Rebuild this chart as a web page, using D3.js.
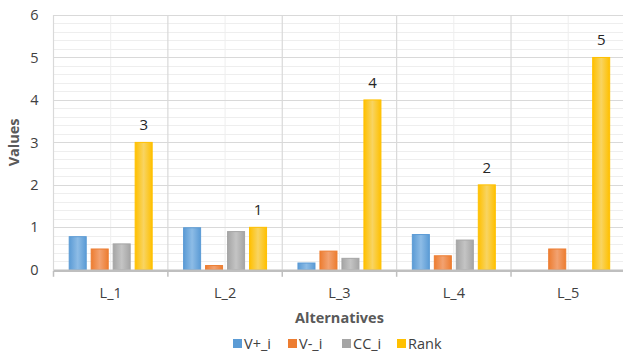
<!DOCTYPE html>
<html>
<head>
<meta charset="utf-8">
<script src="https://cdn.jsdelivr.net/npm/d3@7"></script>
<style>
  html, body { margin: 0; padding: 0; background: #fff; overflow: hidden; }
  svg { display: block; font-family: "Open Sans", "Noto Sans", sans-serif; }
</style>
</head>
<body>
<svg id="chart" width="623" height="354"></svg>
<script>
// Alternatives and the TOPSIS results for each
const categories = ["L_1", "L_2", "L_3", "L_4", "L_5"];
const seriesNames = ["V+_i", "V-_i", "CC_i", "Rank"];
const vPlus  = [0.78, 0.99, 0.16, 0.83, 0];
const vMinus = [0.49, 0.10, 0.44, 0.33, 0.49];
const cc     = [0.61, 0.90, 0.27, 0.70, 0];
const rank   = [3, 1, 4, 2, 5];
const yTicks = [0, 1, 2, 3, 4, 5, 6];

const colors = ["#5B9BD5", "#ED7D31", "#A5A5A5", "#FFC000"];
const centers = ["#8DBCE6", "#F2A271", "#C4C4C4", "#F8D462"];
const seriesValues = [vPlus, vMinus, cc, rank];

const svg = d3.select("#chart");
const plotLeft = 53.5, plotRight = 625.4, plotTop = 15, plotBottom = 269.8;

const x = d3.scaleBand().domain(categories).range([plotLeft, plotRight]).padding(0);
const x1 = d3.scaleBand().domain(seriesNames)
  .range([15.2, x.bandwidth() - 15.2]).paddingInner(0.18).paddingOuter(0);
const y = d3.scaleLinear().domain([0, 6]).range([plotBottom, plotTop]);

// gradients give the bars a soft lit centre
const defs = svg.append("defs");
seriesNames.forEach((s, i) => {
  const g = defs.append("linearGradient").attr("id", "grad" + i)
    .attr("x1", "0%").attr("x2", "100%").attr("y1", "0%").attr("y2", "0%");
  g.append("stop").attr("offset", "0%").attr("stop-color", colors[i]);
  g.append("stop").attr("offset", "50%").attr("stop-color", centers[i]);
  g.append("stop").attr("offset", "100%").attr("stop-color", colors[i]);
});

// minor horizontal gridlines every 0.2
const minor = d3.range(0, 6.0001, 0.2).filter(v => Math.abs(v - Math.round(v)) > 1e-6);
svg.append("g").selectAll("line").data(minor).join("line")
  .attr("x1", plotLeft).attr("x2", plotRight)
  .attr("y1", d => Math.round(y(d)) + 0.5).attr("y2", d => Math.round(y(d)) + 0.5)
  .attr("stroke", "#EEEEEE").attr("stroke-width", 1);

// minor vertical gridlines at category centres
svg.append("g").selectAll("line").data(categories).join("line")
  .attr("x1", d => x(d) + x.bandwidth() / 2).attr("x2", d => x(d) + x.bandwidth() / 2)
  .attr("y1", plotTop).attr("y2", plotBottom)
  .attr("stroke", "#EEEEEE").attr("stroke-width", 1);

// major horizontal gridlines
svg.append("g").selectAll("line").data(yTicks.slice(1)).join("line")
  .attr("x1", plotLeft).attr("x2", plotRight)
  .attr("y1", d => Math.round(y(d)) + 0.5).attr("y2", d => Math.round(y(d)) + 0.5)
  .attr("stroke", "#D9D9D9").attr("stroke-width", 1.2);

// major vertical gridlines at category boundaries
const bounds = categories.map(c => x(c)).concat([plotRight]);
svg.append("g").selectAll("line").data(bounds).join("line")
  .attr("x1", d => d).attr("x2", d => d)
  .attr("y1", plotTop).attr("y2", plotBottom)
  .attr("stroke", "#D9D9D9").attr("stroke-width", 1.2);

// bars
const groups = svg.append("g").selectAll("g").data(categories).join("g")
  .attr("transform", d => `translate(${x(d)},0)`);
groups.selectAll("rect")
  .data((c, ci) => seriesNames.map((s, si) => ({ s, si, v: seriesValues[si][ci] })))
  .join("rect")
  .attr("x", d => x1(d.s) + 0.5)
  .attr("width", x1.bandwidth() - 1)
  .attr("y", d => y(d.v))
  .attr("height", d => Math.max(0, plotBottom - y(d.v)))
  .attr("fill", d => `url(#grad${d.si})`)
  .attr("stroke", d => d.v > 0 ? colors[d.si] : "none")
  .attr("stroke-width", 1);

// rank labels above the yellow bars
svg.append("g").selectAll("text").data(categories).join("text")
  .attr("x", (c) => x(c) + x1("Rank") + x1.bandwidth() / 2)
  .attr("y", (c, i) => y(rank[i]) - 12)
  .attr("text-anchor", "middle")
  .attr("font-size", 15).attr("fill", "#262626")
  .text((c, i) => rank[i]);

// x axis line and ticks
const xAxis = svg.append("g").attr("transform", `translate(0,${plotBottom + 1})`)
  .call(d3.axisBottom(x).tickSize(0).tickPadding(17));
xAxis.select(".domain").attr("stroke", "#BFBFBF").attr("stroke-width", 2.4)
  .attr("d", `M${plotLeft},0H${plotRight}`);
xAxis.selectAll("text").attr("font-size", 14.5).attr("fill", "#404040")
  .attr("font-family", "'Open Sans', sans-serif");
xAxis.append("g").selectAll("line").data(bounds).join("line")
  .attr("x1", d => d).attr("x2", d => d).attr("y1", 0).attr("y2", 6)
  .attr("stroke", "#BFBFBF").attr("stroke-width", 1.5);

// y axis labels
const yAxis = svg.append("g").attr("transform", `translate(${plotLeft},0)`)
  .call(d3.axisLeft(y).tickValues(yTicks).tickSize(0).tickPadding(15).tickFormat(d3.format("d")));
yAxis.select(".domain").remove();
yAxis.selectAll("text").attr("font-size", 14.5).attr("fill", "#404040")
  .attr("font-family", "'Open Sans', sans-serif");

// axis titles
svg.append("text")
  .attr("transform", `translate(19,${(plotTop + plotBottom) / 2}) rotate(-90)`)
  .attr("text-anchor", "middle")
  .attr("font-size", 14.5).attr("font-weight", "bold").attr("fill", "#595959")
  .text("Values");
svg.append("text")
  .attr("x", (plotLeft + plotRight) / 2).attr("y", 323)
  .attr("text-anchor", "middle")
  .attr("font-size", 14.5).attr("font-weight", "bold").attr("fill", "#595959")
  .text("Alternatives");

// legend
const legendX = [233, 288, 342, 397];
const legend = svg.append("g").selectAll("g").data(seriesNames).join("g")
  .attr("transform", (d, i) => `translate(${legendX[i]},339)`);
legend.append("rect").attr("width", 9).attr("height", 9)
  .attr("fill", (d, i) => colors[i]);
legend.append("text").attr("x", 11).attr("y", 9.5)
  .attr("font-size", 14.5).attr("fill", "#404040")
  .text(d => d);
</script>
</body>
</html>
